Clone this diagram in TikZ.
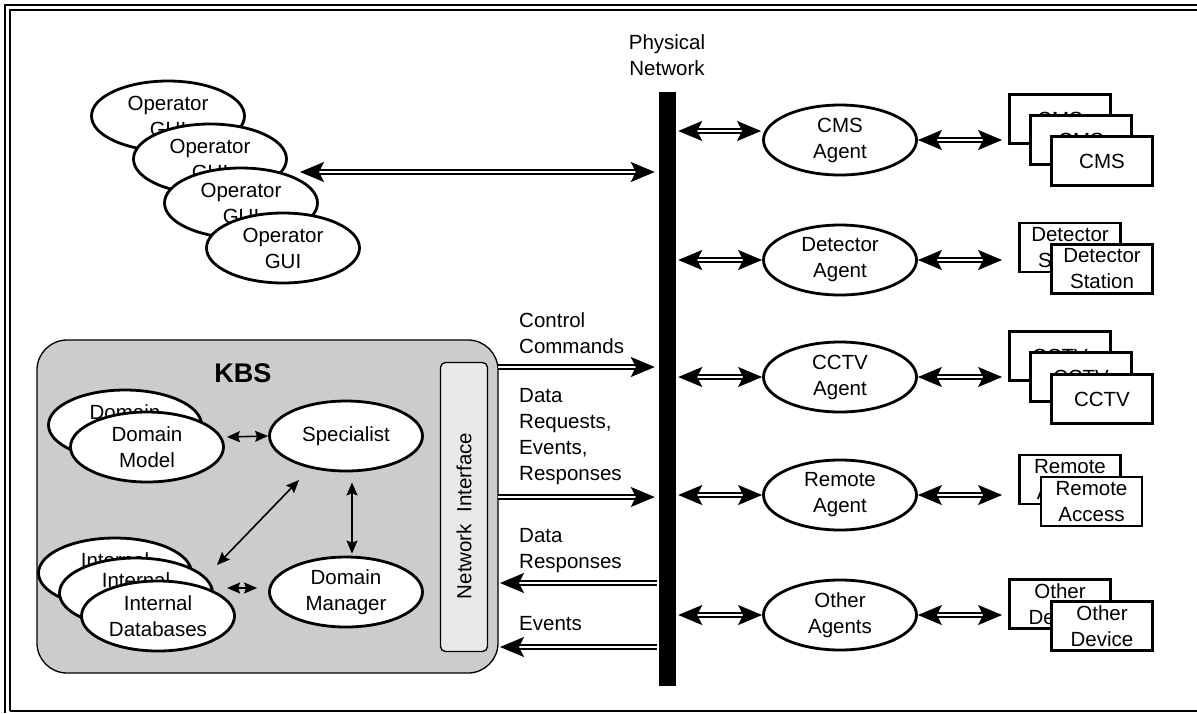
\documentclass[tikz,border=0pt]{standalone}
\usepackage{fontspec}
\setmainfont{Liberation Sans}
\usetikzlibrary{shapes.geometric,arrows.meta,calc}
\begin{document}
\begin{tikzpicture}[x=1pt,y=-1pt,
  txt/.style={font=\fontsize{20.5}{26}\selectfont, align=center, inner sep=0pt},
  ell/.style={txt, ellipse, draw, line width=2.8pt, fill=white, minimum width=153pt, minimum height=70pt},
  dev/.style={txt, rectangle, draw, line width=2.8pt, fill=white, minimum width=101pt, minimum height=49pt},
  dar/.style={double, double distance=2.2pt, line width=1.6pt, {Stealth[length=24pt,width=20pt,inset=5pt]}-{Stealth[length=24pt,width=20pt,inset=5pt]}},
  rar/.style={double, double distance=2.2pt, line width=1.6pt, -{Stealth[length=24pt,width=20pt,inset=5pt]}},
  sar/.style={line width=1.6pt, {Stealth[length=13pt,width=11pt,inset=2pt]}-{Stealth[length=13pt,width=11pt,inset=2pt]}},
  lbl/.style={font=\fontsize{20.5}{26}\selectfont, align=left, inner sep=0pt, anchor=west},
  frameline/.style={line width=1.5pt}
]
\useasboundingbox (0,0) rectangle (1197,713);
% frame
\draw[frameline] (5,713) -- (5,5) -- (1197,5);
\draw[frameline] (10,711) -- (10,10) -- (1197,10);
\draw[frameline] (10,711) -- (1197,711);

% physical network bar
\node[fill=black, minimum width=17pt, minimum height=594pt, inner sep=0pt] (bar) at (667.5,389) {};
\node[txt] (pn) at (667,55) {Physical\\Network};

% operator GUIs
\node[ell] (g1) at (168,116) {Operator\\GUI};
\node[ell] (g2) at (210,159) {Operator\\GUI};
\node[ell] (g3) at (241,203) {Operator\\GUI};
\node[ell] (g4) at (283,248) {Operator\\GUI};
\coordinate (gend) at (300,172);
\draw[dar] (gend) -- ([xshift=-4pt]bar.west |- gend);

% KBS
\node[draw, fill=gray!40, rounded corners=30pt, line width=1.3pt, minimum width=461pt, minimum height=333pt, inner sep=0pt] (kbs) at (267.5,506.5) {};
\node[font=\fontsize{27}{30}\selectfont\bfseries, inner sep=0pt] (kbsl) at (243,373) {KBS};
\node[draw, fill=gray!17, rounded corners=5pt, line width=1.3pt, minimum width=47pt, minimum height=289pt, inner sep=0pt] (ni) at (464,507) {};
\node[txt, rotate=90] (nil) at ([yshift=-9pt]ni.center) {Network\ \ Interface};

\node[ell] (dm1) at (125,425) {Domain\\Model};
\node[ell] (dm2) at (147,447) {Domain\\Model};
\node[ell] (spec) at (346,436) {Specialist};
\node[ell] (dmgr) at (346,592) {Domain\\Manager};
\node[ell] (i1) at (115,573) {Internal\\Databases};
\node[ell] (i2) at (136,593) {Internal\\Databases};
\node[ell] (i3) at (158,616) {Internal\\Databases};

\draw[sar] ($(dm2.east)+(2,-10)$) -- (spec.west);
\draw[sar] ($(spec.south)+(6,10)$) -- ($(dmgr.north)+(6,-2)$);
\draw[sar] ($(i3.center)+(59,-51)$) -- ($(spec.center)+(-47,44)$);
\draw[sar] ($(dmgr.west)+(-41,-4)$) -- ($(dmgr.west)+(-11,-4)$);

% KBS <-> network
\coordinate (cc) at (498,367);
\coordinate (dr) at (498,497);
\coordinate (dresp) at (500,583);
\coordinate (ev) at (500,647);
\draw[rar] (cc) -- ([xshift=-4pt]bar.west |- cc);
\draw[rar] (dr) -- ([xshift=-4pt]bar.west |- dr);
\draw[rar] ([xshift=-2pt]bar.west |- dresp) -- (dresp);
\draw[rar] ([xshift=-2pt]bar.west |- ev) -- (ev);
\node[lbl] (l1) at (519,333) {Control\\Commands};
\node[lbl] (l2) at (519,436.5) {Data\\Requests,\\Events,\\Responses};
\node[lbl] (l3) at (519,551) {Data\\Responses};
\node[lbl] (l4) at (519,624) {Events};

% agents
\node[ell] (cmsA) at (840,140) {CMS\\Agent};
\node[ell] (detA) at (840,260) {Detector\\Agent};
\node[ell] (cctvA) at (840,377) {CCTV\\Agent};
\node[ell] (remA) at (840,495) {Remote\\Agent};
\node[ell] (othA) at (840,615) {Other\\Agents};

\coordinate (p1) at ($(cmsA.west)+(-1,-9)$);
\draw[dar] ([xshift=2pt]bar.east |- p1) -- (p1);
\draw[dar] ([xshift=2pt]bar.east |- detA.west) -- (detA.west);
\draw[dar] ([xshift=2pt]bar.east |- cctvA.west) -- (cctvA.west);
\draw[dar] ([xshift=2pt]bar.east |- remA.west) -- (remA.west);
\draw[dar] ([xshift=2pt]bar.east |- othA.west) -- (othA.west);

% devices
\node[dev] (cms1) at (1060,119) {CMS};
\node[dev] (cms2) at (1081,140) {CMS};
\node[dev] (cms3) at (1102,161) {CMS};
\node[dev] (det1) at (1070,247.5) {Detector\\Station};
\node[dev] (det2) at (1102,269) {Detector\\Station};
\node[dev] (cc1) at (1060,356) {CCTV};
\node[dev] (cc2) at (1081,377) {CCTV};
\node[dev] (cc3) at (1102,399) {CCTV};
\node[dev] (rem1) at (1070,479.5) {Remote\\Access};
\node[dev] (rem2) at (1091.5,501.5) {Remote\\Access};
\node[dev] (oth1) at (1060,604) {Other\\Device};
\node[dev] (oth2) at (1102,626) {Other\\Device};

\draw[dar] (cmsA.east) -- ([xshift=-6pt]cmsA.east -| cms1.west);
\draw[dar] (detA.east) -- ([xshift=-16pt]detA.east -| det1.west);
\draw[dar] (cctvA.east) -- ([xshift=-6pt]cctvA.east -| cc1.west);
\draw[dar] (remA.east) -- ([xshift=-16pt]remA.east -| rem1.west);
\draw[dar] (othA.east) -- ([xshift=-6pt]othA.east -| oth1.west);
\end{tikzpicture}
\end{document}
